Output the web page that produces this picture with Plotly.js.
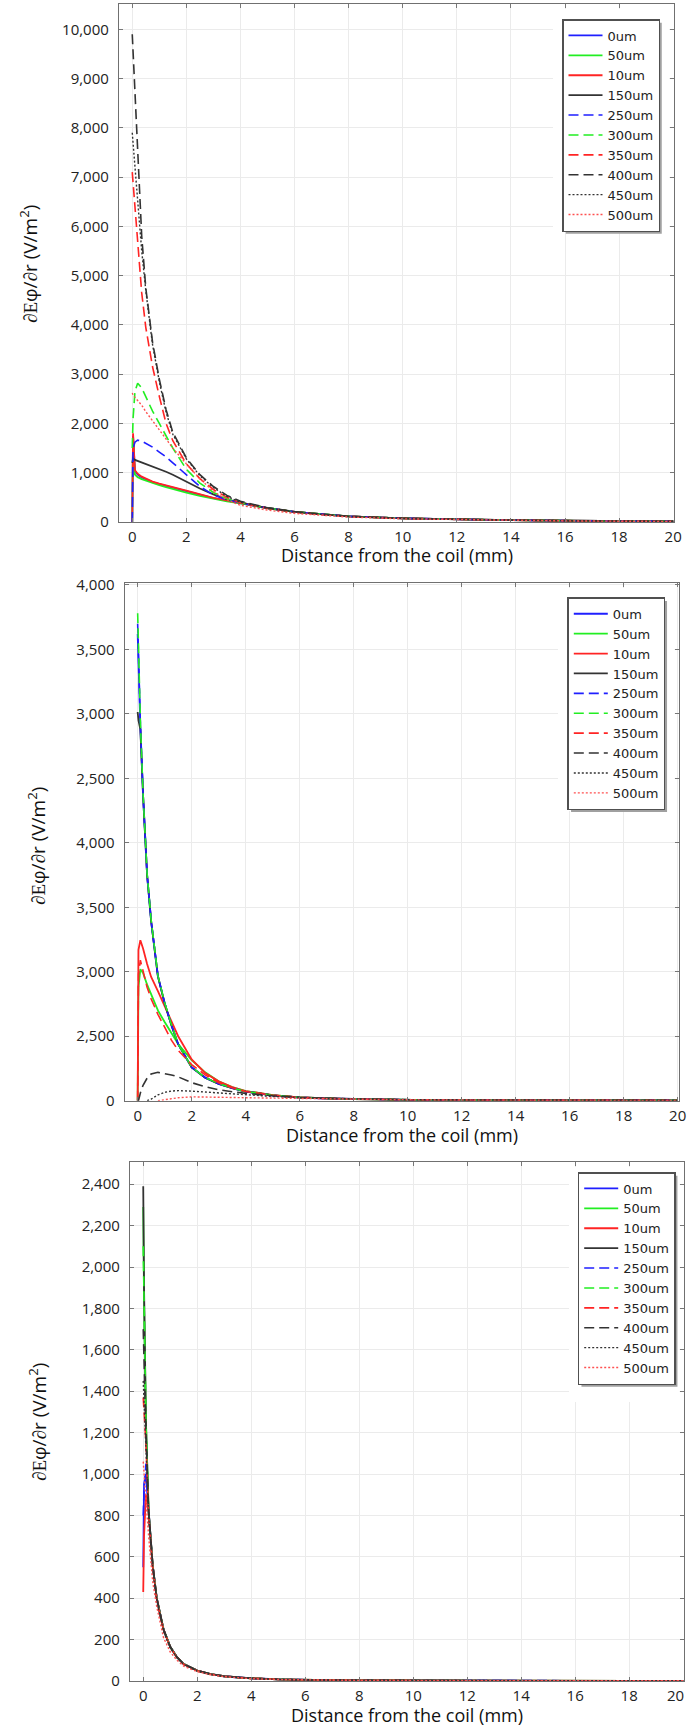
<!DOCTYPE html>
<html>
<head>
<meta charset="utf-8">
<script src="https://cdn.plot.ly/plotly-3.0.1.min.js"></script>
<style>html,body{margin:0;padding:0;background:#fff;}#chart{width:688px;height:1728px;}</style>
</head>
<body>
<div id="chart"></div>
<script>
// ---------- data ----------
const seriesNames = ['0um','50um','10um','150um','250um','300um','350um','400um','450um','500um'];
const xTicks = [0,2,4,6,8,10,12,14,16,18,20];
const xTicksP3 = [0,2,4,6,8,10,12,14,16,18];   // "20" of panel 3 is printed pulled in from the edge
const lastXTick = '20';

// shared x grid (mm)
const xGrid = [0,0.03,0.1,0.2,0.35,0.5,0.75,1,1.25,1.5,2,2.5,3,3.5,4,5,6,7,8,10,12,14,16,18,20];

// Panel 1 values (V/m^2)
const p1_0um   = [0,1750,1030,960,905,865,810,770,735,700,625,550,485,435,385,280,205,152,114,75,52,37,27,19,14];
const p1_50um  = [0,1700,960,910,870,840,790,750,710,670,595,530,470,420,380,278,204,151,113,74,52,37,27,19,14];
const p1_10um  = [0,1800,1050,980,920,880,820,780,750,710,636,560,490,440,390,282,206,153,115,75,52,37,27,19,14];
const p1_150um = [1200,1290,1260,1240,1210,1180,1120,1070,1020,960,820,680,560,460,392,284,207,154,115,75,52,37,27,19,14];
const p1_250um = [0,1500,1620,1660,1640,1600,1520,1420,1320,1200,950,720,550,450,385,282,206,153,114,75,52,37,27,19,14];
const p1_300um = [1500,2100,2650,2815,2720,2540,2250,2000,1750,1500,1070,790,600,470,392,284,207,154,115,75,52,37,27,19,14];
const p1_350um = [7100,6900,6350,5600,4650,3950,3150,2550,2000,1650,1180,880,660,500,390,280,205,152,114,75,52,37,27,19,14];
const p1_400um = [9900,9550,8600,7600,5800,4750,3650,2900,2280,1820,1300,960,720,540,420,290,210,155,115,76,53,38,27,19,14];
const p1_450um = [7900,7700,7150,6500,5500,4700,3600,2850,2230,1780,1280,940,700,520,400,282,204,151,113,74,52,37,27,19,14];
const p1_500um = [2620,2580,2530,2460,2370,2240,2050,1860,1670,1500,1180,880,620,450,340,240,175,132,100,65,46,33,23,16,12];

// Panel 2 values (axis position units; tick labels as printed)
const p2_0um   = [3620,3350,2900,2370,1750,1390,965,755,585,438,258,178,130,97,71,41,25,17,12,7,5,4,3,2,2];
const p2_50um  = [0,880,1020,990,900,820,700,610,520,440,315,220,150,105,75,44,26,18,12,7,5,4,3,2,2];
const p2_10um  = [0,1170,1245,1180,1060,960,850,730,610,500,320,215,150,105,75,44,26,18,12,7,5,4,3,2,2];
const p2_150um = [3015,2950,2880,2370,1750,1390,965,755,585,438,258,178,130,97,71,41,25,17,12,7,5,4,3,2,2];
const p2_250um = [3700,3400,2920,2375,1755,1395,968,758,588,440,260,180,132,98,72,42,25,17,12,7,5,4,3,2,2];
const p2_300um = [3780,3450,2950,2380,1760,1400,970,760,590,440,260,180,132,98,72,42,25,17,12,7,5,4,3,2,2];
const p2_350um = [0,980,1090,1000,880,790,670,570,470,390,280,200,140,100,72,42,25,17,12,7,5,4,3,2,2];
const p2_400um = [0,0,60,120,175,208,220,212,200,185,140,108,85,70,57,38,25,18,13,8,6,4,3,2,2];
const p2_450um = [null,null,null,null,0,12,45,65,75,78,74,67,58,50,44,33,24,18,13,8,6,4,3,2,2];
const p2_500um = [null,null,null,null,null,null,0,8,16,23,30,30,27,25,23,20,16,13,11,7,5,4,3,2,2];
const p2TickVals = [0,500,1000,1500,2000,2500,3000,3500,4000];
const p2TickText = ['0','2,500','3,000','3,500','4,000','2,500','3,000','3,500','4,000'];

// Panel 3 values (V/m^2)
const p3_0um   = [550,950,1000,820,560,400,250,165,115,82,50,33,23,17,13,8,5,4,3,2,1.5,1,1,1,1];
const p3_50um  = [2290,1850,1250,820,560,400,250,165,115,82,50,33,23,17,13,8,5,4,3,2,1.5,1,1,1,1];
const p3_10um  = [430,700,900,820,560,400,250,165,115,82,50,33,23,17,13,8,5,4,3,2,1.5,1,1,1,1];
const p3_150um = [2390,1900,1250,820,560,400,250,165,115,82,50,33,23,17,13,8,5,4,3,2,1.5,1,1,1,1];
const p3_250um = [800,920,1050,820,560,400,250,165,115,82,50,33,23,17,13,8,5,4,3,2,1.5,1,1,1,1];
const p3_300um = [2100,1750,1250,820,560,400,250,165,115,82,50,33,23,17,13,8,5,4,3,2,1.5,1,1,1,1];
const p3_350um = [1370,1300,1150,810,555,395,248,163,114,81,50,33,23,17,13,8,5,4,3,2,1.5,1,1,1,1];
const p3_400um = [1700,1500,1200,815,558,398,250,165,115,82,50,33,23,17,13,8,5,4,3,2,1.5,1,1,1,1];
const p3_450um = [1450,1350,1150,800,540,385,240,160,112,80,49,32,22,16,12,8,5,4,3,2,1.5,1,1,1,1];
const p3_500um = [1060,1000,900,700,480,360,210,140,100,72,45,30,21,15,11,7,5,4,3,2,1.5,1,1,1,1];

// ---------- styles ----------
const lineColors = ['#1f1fff','#22ee22','#ff2424','#333333','#1f1fff','#22ee22','#ff2424','#333333','#333333','#ff5050'];
const lineDash = ['solid','solid','solid','solid','10px,5px','10px,5px','10px,5px','10px,5px','2px,2px','2px,2px'];
const lineWidth = [1.8,1.8,1.8,1.8,1.6,1.6,1.6,1.6,1.4,1.4];

const panels = [
  {vals:[p1_0um,p1_50um,p1_10um,p1_150um,p1_250um,p1_300um,p1_350um,p1_400um,p1_450um,p1_500um], xa:'x', ya:'y', lg:'legend'},
  {vals:[p2_0um,p2_50um,p2_10um,p2_150um,p2_250um,p2_300um,p2_350um,p2_400um,p2_450um,p2_500um], xa:'x2', ya:'y2', lg:'legend2'},
  {vals:[p3_0um,p3_50um,p3_10um,p3_150um,p3_250um,p3_300um,p3_350um,p3_400um,p3_450um,p3_500um], xa:'x3', ya:'y3', lg:'legend3'}
];

const traces = [];
panels.forEach(p => {
  seriesNames.forEach((n, i) => {
    traces.push({
      type:'scatter', mode:'lines', name:n, x:xGrid, y:p.vals[i],
      xaxis:p.xa, yaxis:p.ya, legend:p.lg, connectgaps:false,
      line:{color:lineColors[i], dash:lineDash[i], width:lineWidth[i]}
    });
  });
});

// ---------- layout ----------
const W = 688, H = 1728;
const px = v => v / W;
const py = v => 1 - v / H;
const FONT = 'Open Sans, Noto Sans, sans-serif';
const LFONT = 'DejaVu Sans, sans-serif';

// plot-area boxes in page pixels
const boxes = [
  {l:119, r:674, t:4, b:522},
  {l:124.7, r:679, t:583.3, b:1100.7},
  {l:130, r:684, t:1162.3, b:1681}
];

function xAxis(bx, anchor, range, ticks) {
  return {
    domain:[px(bx.l), px(bx.r)], anchor:anchor, range:range,
    tickvals:ticks, ticks:'inside', ticklen:4, tickcolor:'#777', mirror:'ticks',
    showline:true, linecolor:'#707070', linewidth:1.3,
    showgrid:true, gridcolor:'#ebebeb', gridwidth:1, zeroline:false,
    tickfont:{family:FONT, size:15, color:'#222'}, ticklabelstandoff:1
  };
}
function yAxis(bx, anchor, range, extra) {
  return Object.assign({
    domain:[py(bx.b), py(bx.t)], anchor:anchor, range:range,
    ticks:'inside', ticklen:4, tickcolor:'#777', mirror:'ticks',
    showline:true, linecolor:'#707070', linewidth:1.3,
    showgrid:true, gridcolor:'#ebebeb', gridwidth:1, zeroline:false,
    tickfont:{family:FONT, size:15, color:'#222'}, ticklabelstandoff:6
  }, extra);
}

function legendAt(left, top) {
  return {
    x:px(left), y:py(top), xanchor:'left', yanchor:'top',
    bgcolor:'#ffffff', bordercolor:'#505050', borderwidth:1.5,
    font:{family:LFONT, size:13, color:'#222'}, tracegroupgap:0, itemwidth:34
  };
}

// white patches that hide the grid around each legend (as in the source image)
function patch(l, r, t, b) {
  return {type:'rect', xref:'paper', yref:'paper', layer:'above',
    x0:px(l), x1:px(r), y0:py(b), y1:py(t), fillcolor:'#ffffff', line:{width:0}};
}
const shapes = [
  patch(553, 669, 9, 231),
  patch(558, 674.5, 588, 811),
  patch(569, 679.5, 1167, 1402)
];

const yTitle = '<span style="font-family:Liberation Serif">∂E</span>φ/<span style="font-family:Liberation Serif">∂</span>r (V/m<sup>2</sup>)';
const xTitle = 'Distance from the coil (mm)';

const annotations = [
  {text:xTitle, x:px((boxes[0].l+boxes[0].r)/2), y:py(555)},
  {text:xTitle, x:px((boxes[1].l+boxes[1].r)/2), y:py(1135)},
  {text:xTitle, x:px((boxes[2].l+boxes[2].r)/2), y:py(1715)}
].map(a => Object.assign({xref:'paper', yref:'paper', xanchor:'center', yanchor:'middle', showarrow:false,
  font:{family:FONT, size:18, color:'#111'}}, a));
[[29,264],[37,846],[38,1422]].forEach(([x,y]) => annotations.push({
  text:yTitle, x:px(x), y:py(y), xref:'paper', yref:'paper', xanchor:'center', yanchor:'middle',
  textangle:-90, showarrow:false, font:{family:FONT, size:19, color:'#111'}
}));
annotations.push({text:lastXTick, x:px(675), y:py(1694.5), xref:'paper', yref:'paper',
  xanchor:'center', yanchor:'middle', showarrow:false, font:{family:FONT, size:15, color:'#222'}});

const layout = {
  width:W, height:H, margin:{l:0, r:0, t:0, b:0},
  paper_bgcolor:'#fff', plot_bgcolor:'#fff', showlegend:true,
  font:{family:FONT},
  xaxis: xAxis(boxes[0], 'y', [-0.49, 20.03], xTicks),
  yaxis: yAxis(boxes[0], 'x', [0, 10513], {dtick:1000, tickformat:',d'}),
  xaxis2: xAxis(boxes[1], 'y2', [-0.48, 20.05], xTicks),
  yaxis2: yAxis(boxes[1], 'x2', [0, 4013], {tickvals:p2TickVals, ticktext:p2TickText}),
  xaxis3: xAxis(boxes[2], 'y3', [-0.49, 20.03], xTicksP3),
  yaxis3: yAxis(boxes[2], 'x3', [0, 2506], {dtick:200, tickformat:',d'}),
  legend: legendAt(562, 19),
  legend2: legendAt(567.3, 597.3),
  legend3: legendAt(577.7, 1172),
  shapes: shapes,
  annotations: annotations
};

const gd = document.getElementById('chart');
Plotly.newPlot(gd, traces, layout, {displayModeBar:false}).then(() => {
  // drop shadow behind each legend box, sized from the rendered legend
  const extra = [];
  ['legend','legend2','legend3'].forEach(id => {
    const bg = gd.querySelector('g.' + id + ' rect.bg');
    if (!bg) return;
    const r = bg.getBoundingClientRect();
    extra.push({type:'rect', xref:'paper', yref:'paper', layer:'above',
      x0:px(r.left + 3), x1:px(r.right + 2.5), y0:py(r.bottom + 2.5), y1:py(r.top + 3),
      fillcolor:'#a0a0a0', line:{width:0}});
  });
  if (extra.length) return Plotly.relayout(gd, {shapes: shapes.concat(extra)});
}).catch(e => console.log(e));
</script>
</body>
</html>
